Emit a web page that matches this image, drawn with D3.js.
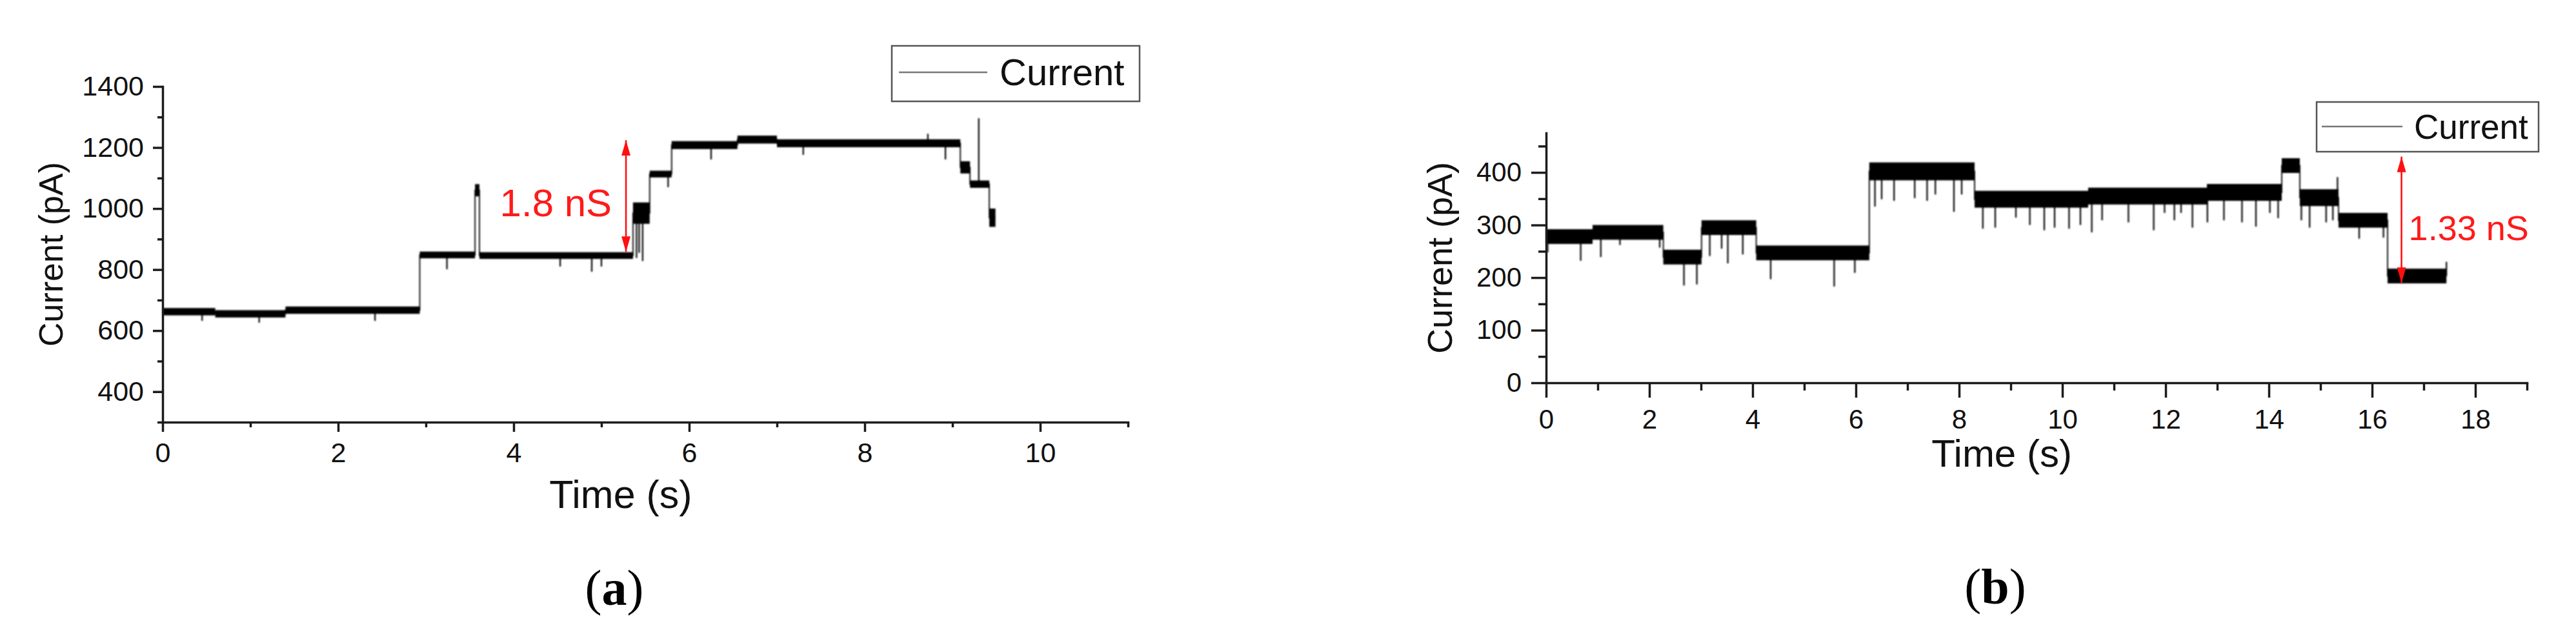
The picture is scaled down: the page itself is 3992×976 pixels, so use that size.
<!DOCTYPE html>
<html>
<head>
<meta charset="UTF-8" />
<title>Current traces</title>
<style>
  html, body { margin: 0; padding: 0; background: #fff; overflow: hidden; }
  svg { display: block; font-family: "Liberation Sans", Arial, sans-serif; }
  .axis path, .axis line { stroke: #1c1c1c; stroke-width: 3.5px; }
  .axis text { fill: #111; font-family: "Liberation Sans", Arial, sans-serif; }
  .title { fill: #111; }
  .panel-label { font-family: "Liberation Serif", "Times New Roman", serif; fill: #000; }
</style>
<script src="https://d3js.org/d3.v7.min.js"></script>
</head>
<body>
<svg id="chart"></svg>
<script>
// ---- panel (a) ----
const timeDomainA = [0, 11];
const currentDomainA = [300, 1400];
const xTicksA = [0, 2, 4, 6, 8, 10];
const xMinorA = [1, 3, 5, 7, 9, 11];
const yTicksA = [400, 600, 800, 1000, 1200, 1400];
const yMinorA = [300, 500, 700, 900, 1100, 1300];
// [start (s), end (s), current (pA), noise p-p (pA)]
const levelsA = [
  [0.00, 0.60, 662, 24],
  [0.60, 1.40, 655, 24],
  [1.40, 2.93, 667, 24],
  [2.93, 3.56, 848, 22],
  [3.56, 3.61, 1060, 40],
  [3.61, 5.36, 846, 22],
  [5.36, 5.55, 985, 70],
  [5.55, 5.80, 1113, 22],
  [5.80, 6.55, 1208, 26],
  [6.55, 7.00, 1226, 26],
  [7.00, 9.09, 1214, 26],
  [9.09, 9.20, 1135, 40],
  [9.20, 9.42, 1080, 24],
  [9.42, 9.49, 970, 60]
];
// [time (s), extreme current (pA)]
const spikesA = [
  [0.45, 632], [1.10, 626], [2.42, 632], [3.24, 801], [4.53, 810], [4.89, 793],
  [5.00, 810], [5.40, 838], [5.43, 855], [5.47, 828], [5.76, 1070], [6.25, 1161],
  [7.30, 1176], [8.72, 1245], [8.92, 1161], [9.30, 1296]
];
const stepA = { t: 5.28, from: 858, to: 1224, label: "1.8 nS", labelAt: 975 };

// ---- panel (b) ----
const timeDomainB = [0, 19];
const currentDomainB = [0, 475];
const xTicksB = [0, 2, 4, 6, 8, 10, 12, 14, 16, 18];
const xMinorB = [1, 3, 5, 7, 9, 11, 13, 15, 17, 19];
const yTicksB = [0, 100, 200, 300, 400];
const yMinorB = [50, 150, 250, 350, 450];
const levelsB = [
  [0.00, 0.90, 278, 28],
  [0.90, 2.27, 286, 28],
  [2.27, 3.01, 239, 28],
  [3.01, 4.07, 295, 28],
  [4.07, 6.26, 247, 28],
  [6.26, 8.30, 402, 34],
  [8.30, 10.50, 349, 32],
  [10.50, 12.80, 355, 32],
  [12.80, 14.25, 362, 32],
  [14.25, 14.60, 413, 28],
  [14.60, 15.35, 352, 32],
  [15.35, 16.30, 309, 28],
  [16.30, 17.44, 203, 28]
];
const spikesB = [
  [0.03, 248], [0.67, 232], [1.06, 239], [1.43, 262], [2.20, 257], [2.67, 185],
  [2.92, 187], [3.17, 241], [3.40, 255], [3.52, 227], [3.81, 244], [4.35, 197],
  [5.58, 183], [5.98, 209], [6.37, 335], [6.50, 349], [6.74, 346], [7.14, 351],
  [7.38, 346], [7.54, 358], [7.90, 325], [8.05, 358], [8.46, 293], [8.70, 295],
  [9.10, 314], [9.37, 300], [9.65, 290], [9.85, 295], [10.13, 293], [10.35, 300],
  [10.57, 286], [10.77, 309], [11.28, 305], [11.77, 290], [11.98, 323], [12.17, 309],
  [12.30, 323], [12.52, 295], [12.81, 305], [13.13, 309], [13.48, 305], [13.75, 297],
  [14.02, 323], [14.18, 313], [14.63, 309], [14.79, 295], [15.11, 305], [15.24, 309],
  [15.33, 391], [15.75, 274], [16.22, 276], [17.44, 230]
];
const stepB = { t: 16.57, from: 190, to: 430, label: "1.33 nS", labelAt: 271 };

const legendLabel = "Current";
const xTitle = "Time (s)";
const yTitle = "Current (pA)";

// ---- layout ----
const width = 3992, height = 976;
const svg = d3.select('#chart').attr('width', width).attr('height', height);
svg.append('rect').attr('width', width).attr('height', height).attr('fill', '#fff');

const defs = svg.append('defs');
defs.append('filter').attr('id', 'soft')
  .append('feGaussianBlur').attr('stdDeviation', 0.8);
defs.append('marker')
  .attr('id', 'head')
  .attr('markerUnits', 'userSpaceOnUse')
  .attr('viewBox', '0 0 24 14')
  .attr('refX', 24).attr('refY', 7)
  .attr('markerWidth', 24).attr('markerHeight', 14)
  .attr('orient', 'auto-start-reverse')
  .append('path').attr('d', 'M0,0 L24,7 L0,14 Z').attr('fill', '#ff1010');

function drawPanel(cfg) {
  const x = d3.scaleLinear().domain(cfg.timeDomain).range([cfg.left, cfg.right]);
  const y = d3.scaleLinear().domain(cfg.currentDomain).range([cfg.bottom, cfg.top]);
  const g = svg.append('g');

  // trace
  const trace = g.append('g').attr('filter', 'url(#soft)');
  const pts = cfg.levels.map(d => [d[0], d[2]]);
  const last = cfg.levels[cfg.levels.length - 1];
  pts.push([last[1], last[2]]);
  trace.append('path')
    .datum(pts)
    .attr('fill', 'none')
    .attr('stroke', '#000')
    .attr('stroke-width', 1.8)
    .attr('d', d3.line().x(d => x(d[0])).y(d => y(d[1])).curve(d3.curveStepAfter));
  trace.selectAll('rect.band')
    .data(cfg.levels)
    .join('rect')
    .attr('class', 'band')
    .attr('x', d => x(d[0]))
    .attr('width', d => x(d[1]) - x(d[0]))
    .attr('y', d => y(d[2] + d[3] / 2))
    .attr('height', d => y(d[2] - d[3] / 2) - y(d[2] + d[3] / 2))
    .attr('fill', '#000');
  const baseAt = t => {
    const s = cfg.levels.find(d => t >= d[0] && t <= d[1]) || last;
    return s[2];
  };
  trace.selectAll('line.spike')
    .data(cfg.spikes)
    .join('line')
    .attr('class', 'spike')
    .attr('x1', d => x(d[0])).attr('x2', d => x(d[0]))
    .attr('y1', d => y(baseAt(d[0]))).attr('y2', d => y(d[1]))
    .attr('stroke', '#000').attr('stroke-width', 2.2);

  // axes
  const xAxis = g.append('g').attr('class', 'axis')
    .attr('transform', `translate(0,${cfg.bottom})`)
    .call(d3.axisBottom(x).tickValues(cfg.xTicks).tickSize(cfg.major).tickSizeOuter(0)
      .tickPadding(cfg.xPad).tickFormat(d3.format('d')));
  g.append('g').attr('class', 'axis')
    .attr('transform', `translate(0,${cfg.bottom})`)
    .call(d3.axisBottom(x).tickValues(cfg.xMinor).tickSize(cfg.minor).tickSizeOuter(0).tickFormat(''))
    .select('.domain').remove();
  g.append('g').attr('class', 'axis')
    .attr('transform', `translate(${cfg.left},0)`)
    .call(d3.axisLeft(y).tickValues(cfg.yTicks).tickSize(cfg.major).tickSizeOuter(0)
      .tickPadding(cfg.yPad).tickFormat(d3.format('d')));
  g.append('g').attr('class', 'axis')
    .attr('transform', `translate(${cfg.left},0)`)
    .call(d3.axisLeft(y).tickValues(cfg.yMinor).tickSize(cfg.minor).tickSizeOuter(0).tickFormat(''))
    .select('.domain').remove();
  g.selectAll('.axis text').attr('font-size', cfg.tickFont);
  g.selectAll('.axis path.domain').attr('stroke-linecap', 'square');

  // titles
  g.append('text').attr('class', 'title')
    .attr('x', cfg.xTitleX).attr('y', cfg.xTitleY)
    .attr('text-anchor', 'middle').attr('font-size', cfg.xTitleFont)
    .text(xTitle);
  g.append('text').attr('class', 'title')
    .attr('transform', `translate(${cfg.yTitleX},${(cfg.top + cfg.bottom) / 2}) rotate(-90)`)
    .attr('text-anchor', 'middle').attr('font-size', cfg.yTitleFont)
    .text(yTitle);

  // legend
  const lg = g.append('g').attr('transform', `translate(${cfg.legend.x},${cfg.legend.y})`);
  lg.append('rect').attr('width', cfg.legend.w).attr('height', cfg.legend.h)
    .attr('fill', '#fff').attr('stroke', '#555').attr('stroke-width', 2.5);
  lg.append('line').attr('x1', cfg.legend.l0).attr('x2', cfg.legend.l1)
    .attr('y1', cfg.legend.ly).attr('y2', cfg.legend.ly)
    .attr('stroke', '#777').attr('stroke-width', 2.5);
  lg.append('text').attr('x', cfg.legend.tx).attr('y', cfg.legend.ty)
    .attr('font-size', cfg.legend.font).attr('fill', '#111').text(legendLabel);

  // conductance step annotation
  const st = cfg.step;
  g.append('line')
    .attr('x1', x(st.t)).attr('x2', x(st.t))
    .attr('y1', y(st.from)).attr('y2', y(st.to))
    .attr('stroke', '#ff1010').attr('stroke-width', 2.6)
    .attr('marker-start', 'url(#head)').attr('marker-end', 'url(#head)');
  g.append('text')
    .attr('x', x(st.t) + cfg.stepDx).attr('y', y(st.labelAt))
    .attr('text-anchor', cfg.stepDx < 0 ? 'end' : 'start')
    .attr('font-size', cfg.stepFont).attr('fill', '#ff1a1a')
    .text(st.label);

  // panel letter
  const pl = svg.append('text').attr('class', 'panel-label')
    .attr('x', cfg.labelX).attr('y', cfg.labelY)
    .attr('text-anchor', 'middle').attr('font-size', cfg.labelFont);
  pl.append('tspan').text('(');
  pl.append('tspan').attr('font-weight', 'bold').text(cfg.letter);
  pl.append('tspan').text(')');
}

drawPanel({
  timeDomain: timeDomainA, currentDomain: currentDomainA,
  xTicks: xTicksA, xMinor: xMinorA, yTicks: yTicksA, yMinor: yMinorA,
  levels: levelsA, spikes: spikesA, step: stepA,
  left: 252, right: 1748, top: 134, bottom: 654,
  major: 15, minor: 8, xPad: 16, yPad: 14, tickFont: 43,
  xTitleX: 962, xTitleY: 787, xTitleFont: 61,
  yTitleX: 97, yTitleFont: 52,
  legend: { x: 1382, y: 71, w: 384, h: 86, l0: 11, l1: 148, ly: 41, tx: 167, ty: 61, font: 58 },
  stepDx: -22, stepFont: 60,
  letter: 'a', labelX: 952, labelY: 937, labelFont: 78
});

drawPanel({
  timeDomain: timeDomainB, currentDomain: currentDomainB,
  xTicks: xTicksB, xMinor: xMinorB, yTicks: yTicksB, yMinor: yMinorB,
  levels: levelsB, spikes: spikesB, step: stepB,
  left: 2396, right: 3916, top: 206, bottom: 593,
  major: 23, minor: 12, xPad: 18, yPad: 15, tickFont: 42,
  xTitleX: 3102, xTitleY: 723, xTitleFont: 60,
  yTitleX: 2250, yTitleFont: 54,
  legend: { x: 3590, y: 158, w: 344, h: 77, l0: 8, l1: 133, ly: 38, tx: 151, ty: 57, font: 53 },
  stepDx: 11, stepFont: 54,
  letter: 'b', labelX: 3092, labelY: 935, labelFont: 78
});
</script>
</body>
</html>
